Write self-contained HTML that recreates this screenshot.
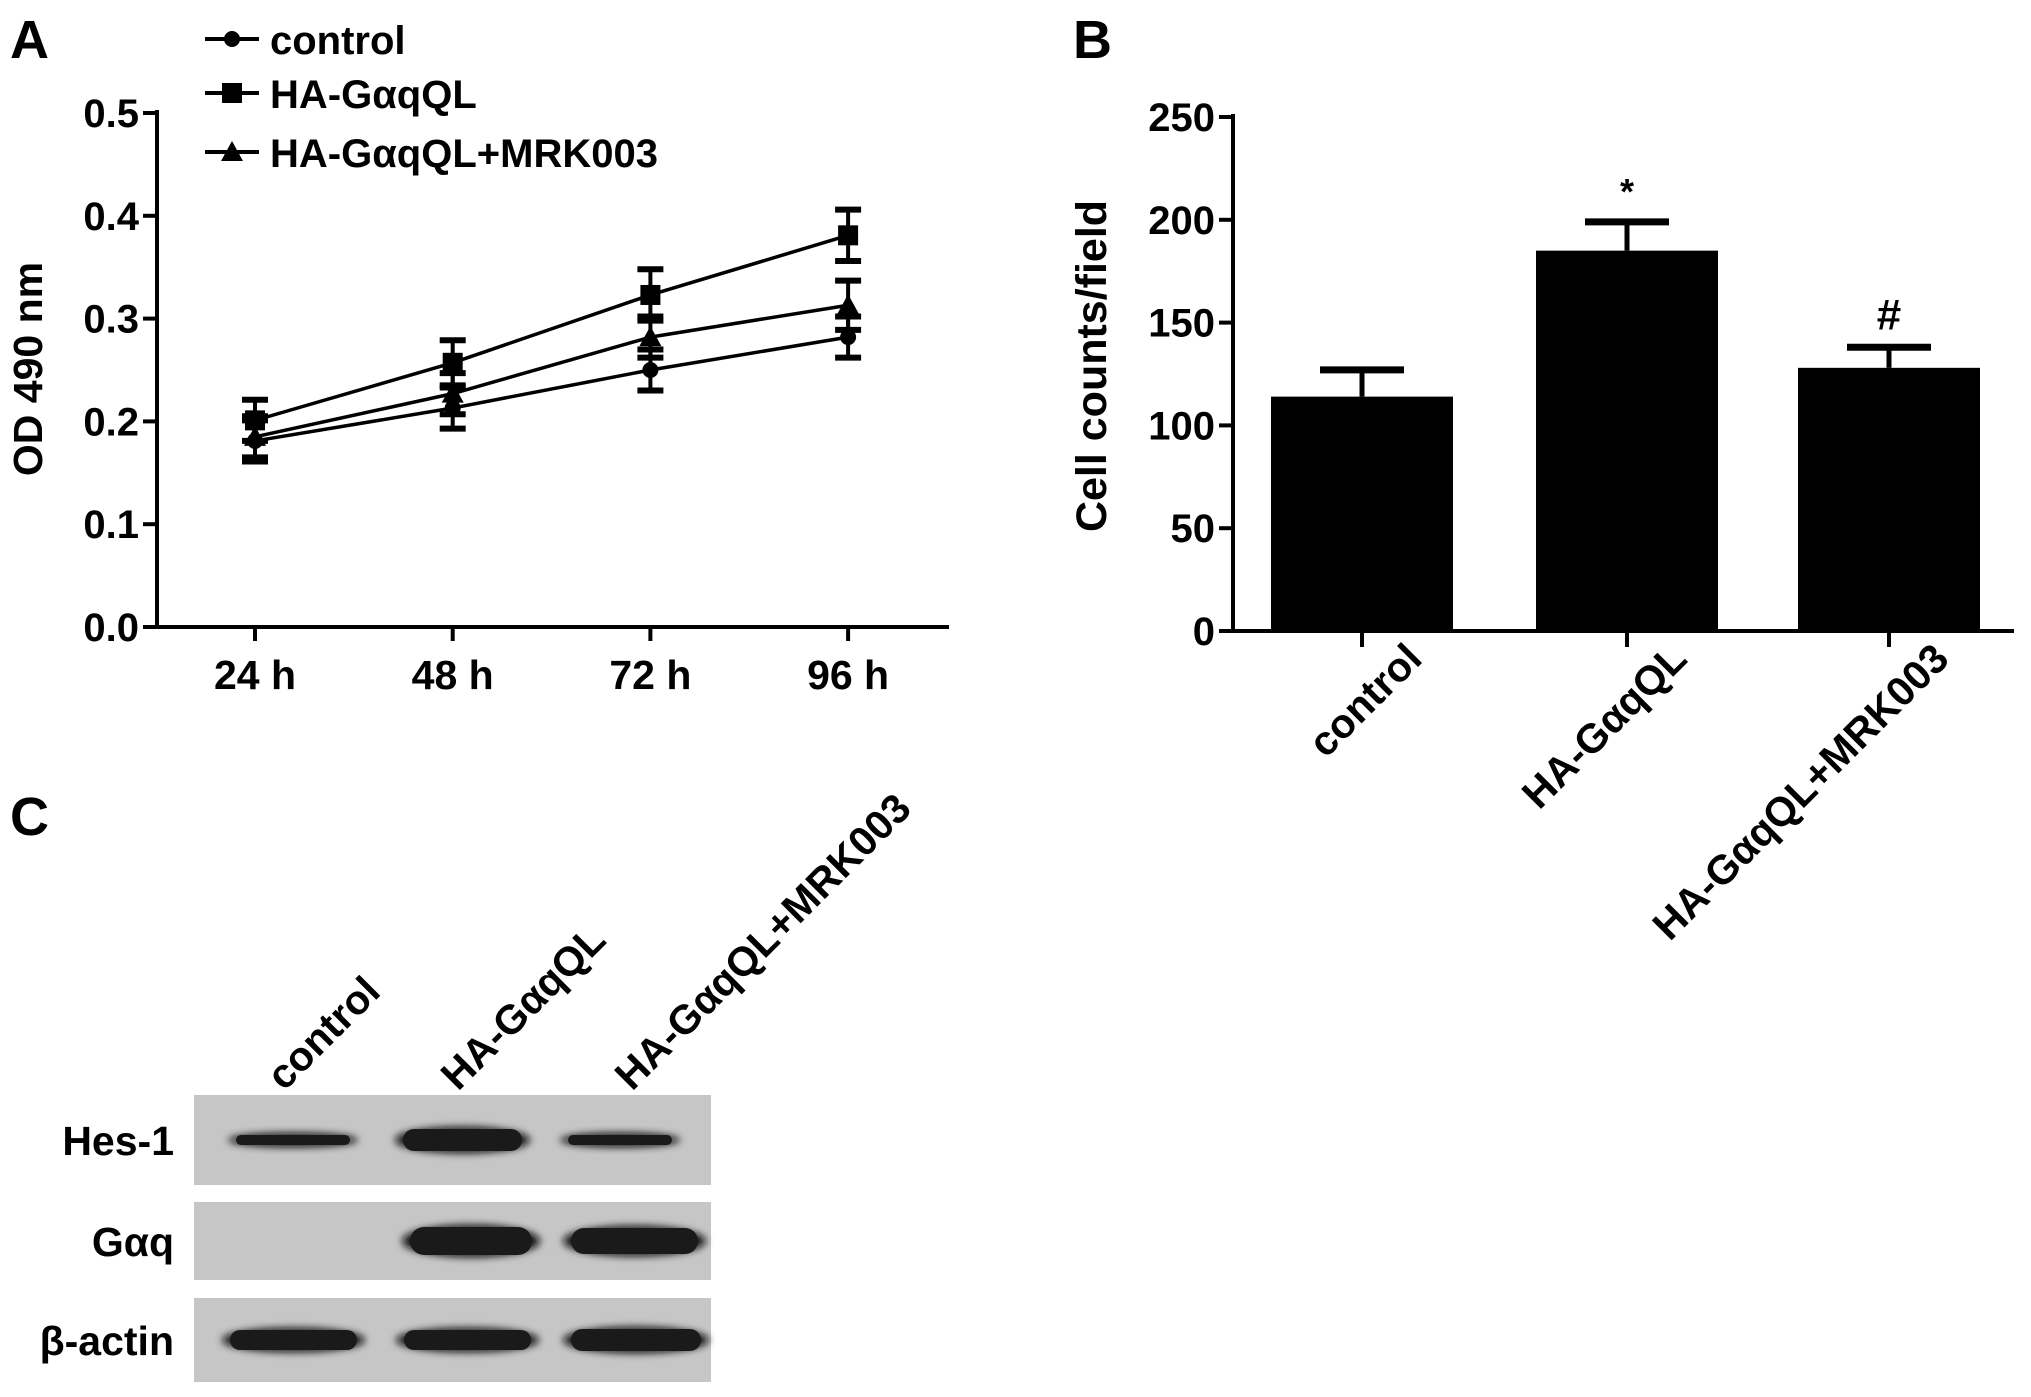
<!DOCTYPE html>
<html><head><meta charset="utf-8">
<style>
html,body{margin:0;padding:0;background:#fff;}
svg{display:block;font-family:"Liberation Sans",sans-serif;font-weight:bold;}
</style></head>
<body>
<svg id="fig" width="2031" height="1397" viewBox="0 0 2031 1397">
  <text x="10" y="58" font-size="54">A</text>
  <text x="1073" y="58" font-size="54">B</text>
  <text x="10" y="835" font-size="54">C</text>
  <g id="chartA"></g>
  <g id="chartB"></g>
  <g id="blot"></g>
</svg>
<script>
const NS='http://www.w3.org/2000/svg';
// ---- Panel A data ----
const timeLabels=['24 h','48 h','72 h','96 h'];
const seriesNames=['control','HA-GαqQL','HA-GαqQL+MRK003'];
const controlVals=[0.181,0.213,0.250,0.282];
const controlErr=[0.02,0.02,0.02,0.02];
const qlVals=[0.201,0.257,0.323,0.381];
const qlErr=[0.02,0.022,0.025,0.025];
const mrkVals=[0.185,0.227,0.282,0.313];
const mrkErr=[0.02,0.02,0.02,0.024];
const yTicksA=[0,0.1,0.2,0.3,0.4,0.5];
const yTickLabelsA=['0.0','0.1','0.2','0.3','0.4','0.5'];
// ---- Panel B data ----
const barCats=['control','HA-GαqQL','HA-GαqQL+MRK003'];
const barVals=[114,185,128];
const barErr=[13,14,10];
const barMarks=['','*','#'];
const yTicksB=[0,50,100,150,200,250];

function el(tag,attrs,parent,text){const e=document.createElementNS(NS,tag);for(const k in attrs)e.setAttribute(k,attrs[k]);if(text!==undefined)e.textContent=text;parent.appendChild(e);return e;}

// ---- Chart A ----
(function(){
const g=document.getElementById('chartA');
const X0=157,X1=949,Y0=627,Y1=113;
const xs=i=>255+i*197.7;
const ys=v=>Y0-(v/0.5)*(Y0-Y1);
let a=el('line',{x1:X0,y1:Y1-3,x2:X0,y2:Y0+2,stroke:'#000','stroke-width':4},g);

a=el('line',{x1:X0-2,y1:Y0,x2:X1,y2:Y0,stroke:'#000','stroke-width':4},g);

yTicksA.forEach((v,i)=>{
  el('line',{x1:X0-14,y1:ys(v),x2:X0,y2:ys(v),stroke:'#000','stroke-width':4},g);
  const t=el('text',{x:X0-18,y:ys(v)+14,'font-size':40,'text-anchor':'end'},g,yTickLabelsA[i]);
  
});
timeLabels.forEach((l,i)=>{
  el('line',{x1:xs(i),y1:Y0,x2:xs(i),y2:Y0+14,stroke:'#000','stroke-width':4},g);
  const t=el('text',{x:xs(i),y:689,'font-size':41,'text-anchor':'middle'},g,l);
  
});
const yt=el('text',{x:0,y:0,'font-size':41,'text-anchor':'middle',transform:'translate(42,369) rotate(-90)'},g,'OD 490 nm');

function marker(type,x,y,parent){
  if(type==='circle') return el('circle',{cx:x,cy:y,r:8,fill:'#000'},parent);
  if(type==='square') return el('rect',{x:x-10,y:y-10,width:20,height:20,fill:'#000'},parent);
  return el('polygon',{points:`${x},${y-11} ${x+11},${y+9} ${x-11},${y+9}`,fill:'#000'},parent);
}
const series=[[controlVals,controlErr,'circle'],[qlVals,qlErr,'square'],[mrkVals,mrkErr,'triangle']];
series.forEach((s,si)=>{
  const sg=el('g',{},g);
  
  
  const vals=s[0],errs=s[1];
  el('polyline',{points:vals.map((v,i)=>xs(i)+','+ys(v)).join(' '),fill:'none',stroke:'#000','stroke-width':3.5},sg);
  vals.forEach((v,i)=>{
    const x=xs(i);
    el('line',{x1:x,y1:ys(v+errs[i]),x2:x,y2:ys(v-errs[i]),stroke:'#000','stroke-width':4},sg);
    el('line',{x1:x-13,y1:ys(v+errs[i]),x2:x+13,y2:ys(v+errs[i]),stroke:'#000','stroke-width':6},sg);
    el('line',{x1:x-13,y1:ys(v-errs[i]),x2:x+13,y2:ys(v-errs[i]),stroke:'#000','stroke-width':6},sg);
    const m=marker(s[2],x,ys(v),sg);
    
  });
  const ly=[39,93,152][si];
  const lg=el('g',{},g);
  
  el('line',{x1:205,y1:ly,x2:259,y2:ly,stroke:'#000','stroke-width':4},lg);
  marker(s[2],232,ly,lg);
  el('text',{x:270,y:ly+15,'font-size':40},lg,seriesNames[si]);
});
})();

// ---- Chart B ----
(function(){
const g=document.getElementById('chartB');
const X0=1233,X1=2014,Y0=631,Y1=117;
const ys=v=>Y0-(v/250)*(Y0-Y1);
const bw=182,cx=[1362,1627,1889];
let a=el('line',{x1:X0,y1:Y1-3,x2:X0,y2:Y0+2,stroke:'#000','stroke-width':4},g);

a=el('line',{x1:X0-2,y1:Y0,x2:X1,y2:Y0,stroke:'#000','stroke-width':4},g);

yTicksB.forEach(v=>{
  el('line',{x1:X0-14,y1:ys(v),x2:X0,y2:ys(v),stroke:'#000','stroke-width':4},g);
  const t=el('text',{x:X0-18,y:ys(v)+14,'font-size':40,'text-anchor':'end'},g,String(v));
  
});
const yt=el('text',{x:0,y:0,'font-size':43,'text-anchor':'middle',transform:'translate(1106,366) rotate(-90)'},g,'Cell counts/field');

barVals.forEach((v,i)=>{
  const x=cx[i];
  el('line',{x1:x,y1:ys(v),x2:x,y2:ys(v+barErr[i]),stroke:'#000','stroke-width':5},g);
  el('line',{x1:x-42,y1:ys(v+barErr[i]),x2:x+42,y2:ys(v+barErr[i]),stroke:'#000','stroke-width':7},g);
  const b=el('rect',{x:x-bw/2,y:ys(v),width:bw,height:ys(0)-ys(v),fill:'#000'},g);
  
  
  el('line',{x1:x,y1:Y0,x2:x,y2:Y0+16,stroke:'#000','stroke-width':4},g);
  if(barMarks[i]){
    const m=el('text',{x:x,y:ys(v+barErr[i])-18,'font-size':barMarks[i]==='*'?36:44,'text-anchor':'middle'},g,barMarks[i]);
    
  }
  const t=el('text',{x:0,y:0,'font-size':41,'text-anchor':'end',transform:`translate(${x+62},${Y0+30}) rotate(-45)`},g,barCats[i]);
  
});
})();

// ---- Western blot ----
(function(){
const g=document.getElementById('blot');
const rows=[['Hes-1',1095,1185],['Gαq',1202,1280],['β-actin',1298,1382]];
const lanes=[['control',284],['HA-GαqQL',458],['HA-GαqQL+MRK003',632]];
const defs=el('defs',{},g);
const f=el('filter',{id:'blur',x:'-20%',y:'-50%',width:'140%',height:'200%'},defs);
el('feGaussianBlur',{stdDeviation:4},f);
rows.forEach(r=>{
  const p=el('rect',{x:194,y:r[1],width:517,height:r[2]-r[1],fill:'#c6c6c6'},g);
  
  const t=el('text',{x:174,y:(r[1]+r[2])/2+15,'font-size':41,'text-anchor':'end'},g,r[0]);
  
});
const bands=[[0,228,130,10],[0,395,135,22],[0,560,120,10],
             [1,402,138,28],[1,563,143,26],
             [2,222,143,20],[2,396,143,20],[2,563,146,22]];
bands.forEach(b=>{
  const r=rows[b[0]];const cy=(r[1]+r[2])/2;
  const e=el('ellipse',{cx:b[1]+b[2]/2,cy:cy,rx:b[2]/2,ry:b[3]/2+2,fill:'#111',filter:'url(#blur)'},g);
  
  el('rect',{x:b[1]+8,y:cy-b[3]/2,width:b[2]-16,height:b[3],fill:'#1a1a1a',rx:b[3]/2},g);
});
lanes.forEach(l=>{
  const t=el('text',{x:0,y:0,'font-size':41,transform:`translate(${l[1]},${1092}) rotate(-45)`},g,l[0]);
  
});
})();
</script>
</body></html>
